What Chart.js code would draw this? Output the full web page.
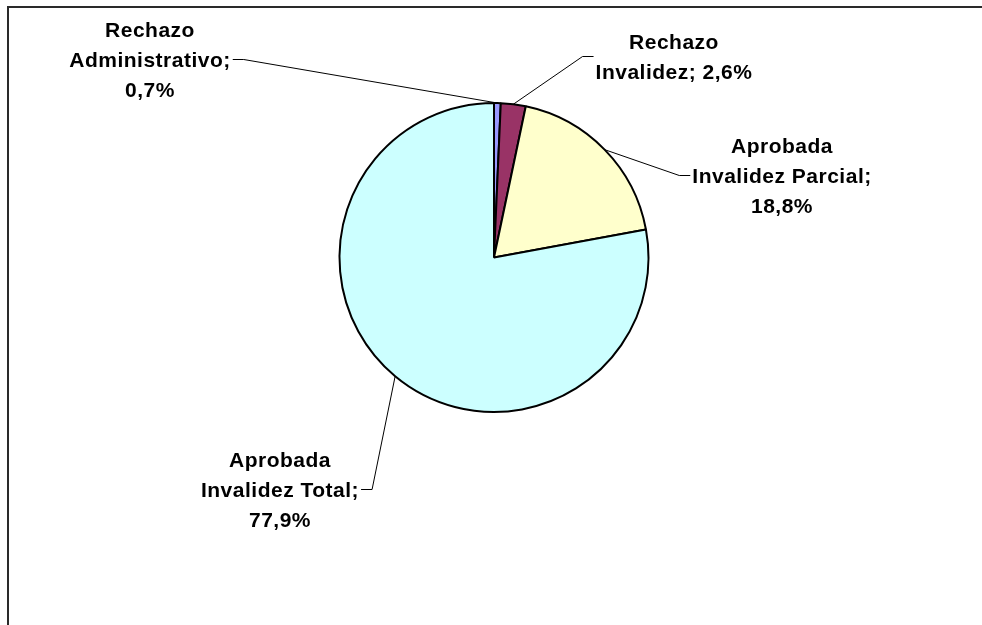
<!DOCTYPE html>
<html>
<head>
<meta charset="utf-8">
<script src="https://cdn.jsdelivr.net/npm/chart.js@4/dist/chart.umd.min.js"></script>
<style>
    html, body { margin: 0; padding: 0; background: #fff; overflow: hidden; }
    #wrap { position: relative; width: 982px; height: 625px; }
    /* plot frame: only its top and left edges fall inside the view */
    #frame {
        position: absolute; left: 7px; top: 6px;
        width: 2000px; height: 2000px;
        border-top: 2px solid #2a2a2a; border-left: 2px solid #2a2a2a;
    }
    canvas { position: absolute; left: 0; top: 0; }
</style>
</head>
<body>
<div id="wrap">
    <div id="frame"></div>
    <canvas id="pie" width="982" height="625"></canvas>
</div>
<script>
// Distribución de dictámenes (porcentaje)
const categories = [
    'Rechazo Administrativo',
    'Rechazo Invalidez',
    'Aprobada Invalidez Parcial',
    'Aprobada Invalidez Total'
];
const values = [0.7, 2.6, 18.8, 77.9];
// how each category name is split into lines; {v} is replaced by the value
const labelLines = [
    ['Rechazo', 'Administrativo;', '{v}'],
    ['Rechazo', 'Invalidez; {v}'],
    ['Aprobada', 'Invalidez Parcial;', '{v}'],
    ['Aprobada', 'Invalidez Total;', '{v}']
];
const sliceColors = ['#9999ff', '#993366', '#ffffcc', '#ccffff'];

function fmtPct(v) {
    return v.toFixed(1).replace('.', ',') + '%';
}

// label boxes, offset from the pie centre (text centre x, first baseline y)
const labelPlacement = [
    { dx: -344, dy: -221, side: 'right' },
    { dx: 180, dy: -209, side: 'left' },
    { dx: 288, dy: -105, side: 'left' },
    { dx: -214, dy: 209, side: 'right' }
];

const FONT = 'bold 21px "Liberation Sans", Arial, sans-serif';
const LINE_H = 30;
const CAP_H = 15;

const leaderLabels = {
    id: 'leaderLabels',
    afterDatasetsDraw(chart) {
        const ctx = chart.ctx;
        const arcs = chart.getDatasetMeta(0).data;
        ctx.save();
        ctx.font = FONT;
        ctx.letterSpacing = '0.5px';
        ctx.fillStyle = '#000';
        ctx.textAlign = 'center';
        ctx.textBaseline = 'alphabetic';
        ctx.strokeStyle = '#000';
        ctx.lineWidth = 1;
        arcs.forEach((arc, i) => {
            const p = labelPlacement[i];
            const lines = labelLines[i].map(s => s.replace('{v}', fmtPct(values[i])));
            const tx = arc.x + p.dx;
            const ty = arc.y + p.dy;
            let maxW = 0;
            lines.forEach((s, k) => {
                ctx.fillText(s, tx, ty + k * LINE_H);
                maxW = Math.max(maxW, ctx.measureText(s).width);
            });
            // leader line: label box middle -> short horizontal -> arc edge
            const lastBase = ty + (lines.length - 1) * LINE_H;
            const my = Math.round((ty - CAP_H + lastBase) / 2) + 0.5;
            const dir = p.side === 'right' ? 1 : -1;
            const x0 = tx + dir * (maxW / 2 + 2);
            const x1 = x0 + dir * 11;
            const mid = (arc.startAngle + arc.endAngle) / 2;
            const ex = arc.x + Math.cos(mid) * arc.outerRadius;
            const ey = arc.y + Math.sin(mid) * arc.outerRadius;
            ctx.beginPath();
            ctx.moveTo(x0, my);
            ctx.lineTo(x1, my);
            ctx.lineTo(ex, ey);
            ctx.stroke();
        });
        ctx.restore();
    }
};

new Chart(document.getElementById('pie'), {
    type: 'pie',
    data: {
        labels: categories,
        datasets: [{
            data: values,
            backgroundColor: sliceColors,
            borderColor: '#000',
            borderWidth: 2
        }]
    },
    options: {
        responsive: false,
        animation: false,
        layout: {
            padding: { top: 102, bottom: 212, left: 338, right: 332 }
        },
        plugins: {
            legend: { display: false },
            tooltip: { enabled: false }
        }
    },
    plugins: [leaderLabels]
});
</script>
</body>
</html>
